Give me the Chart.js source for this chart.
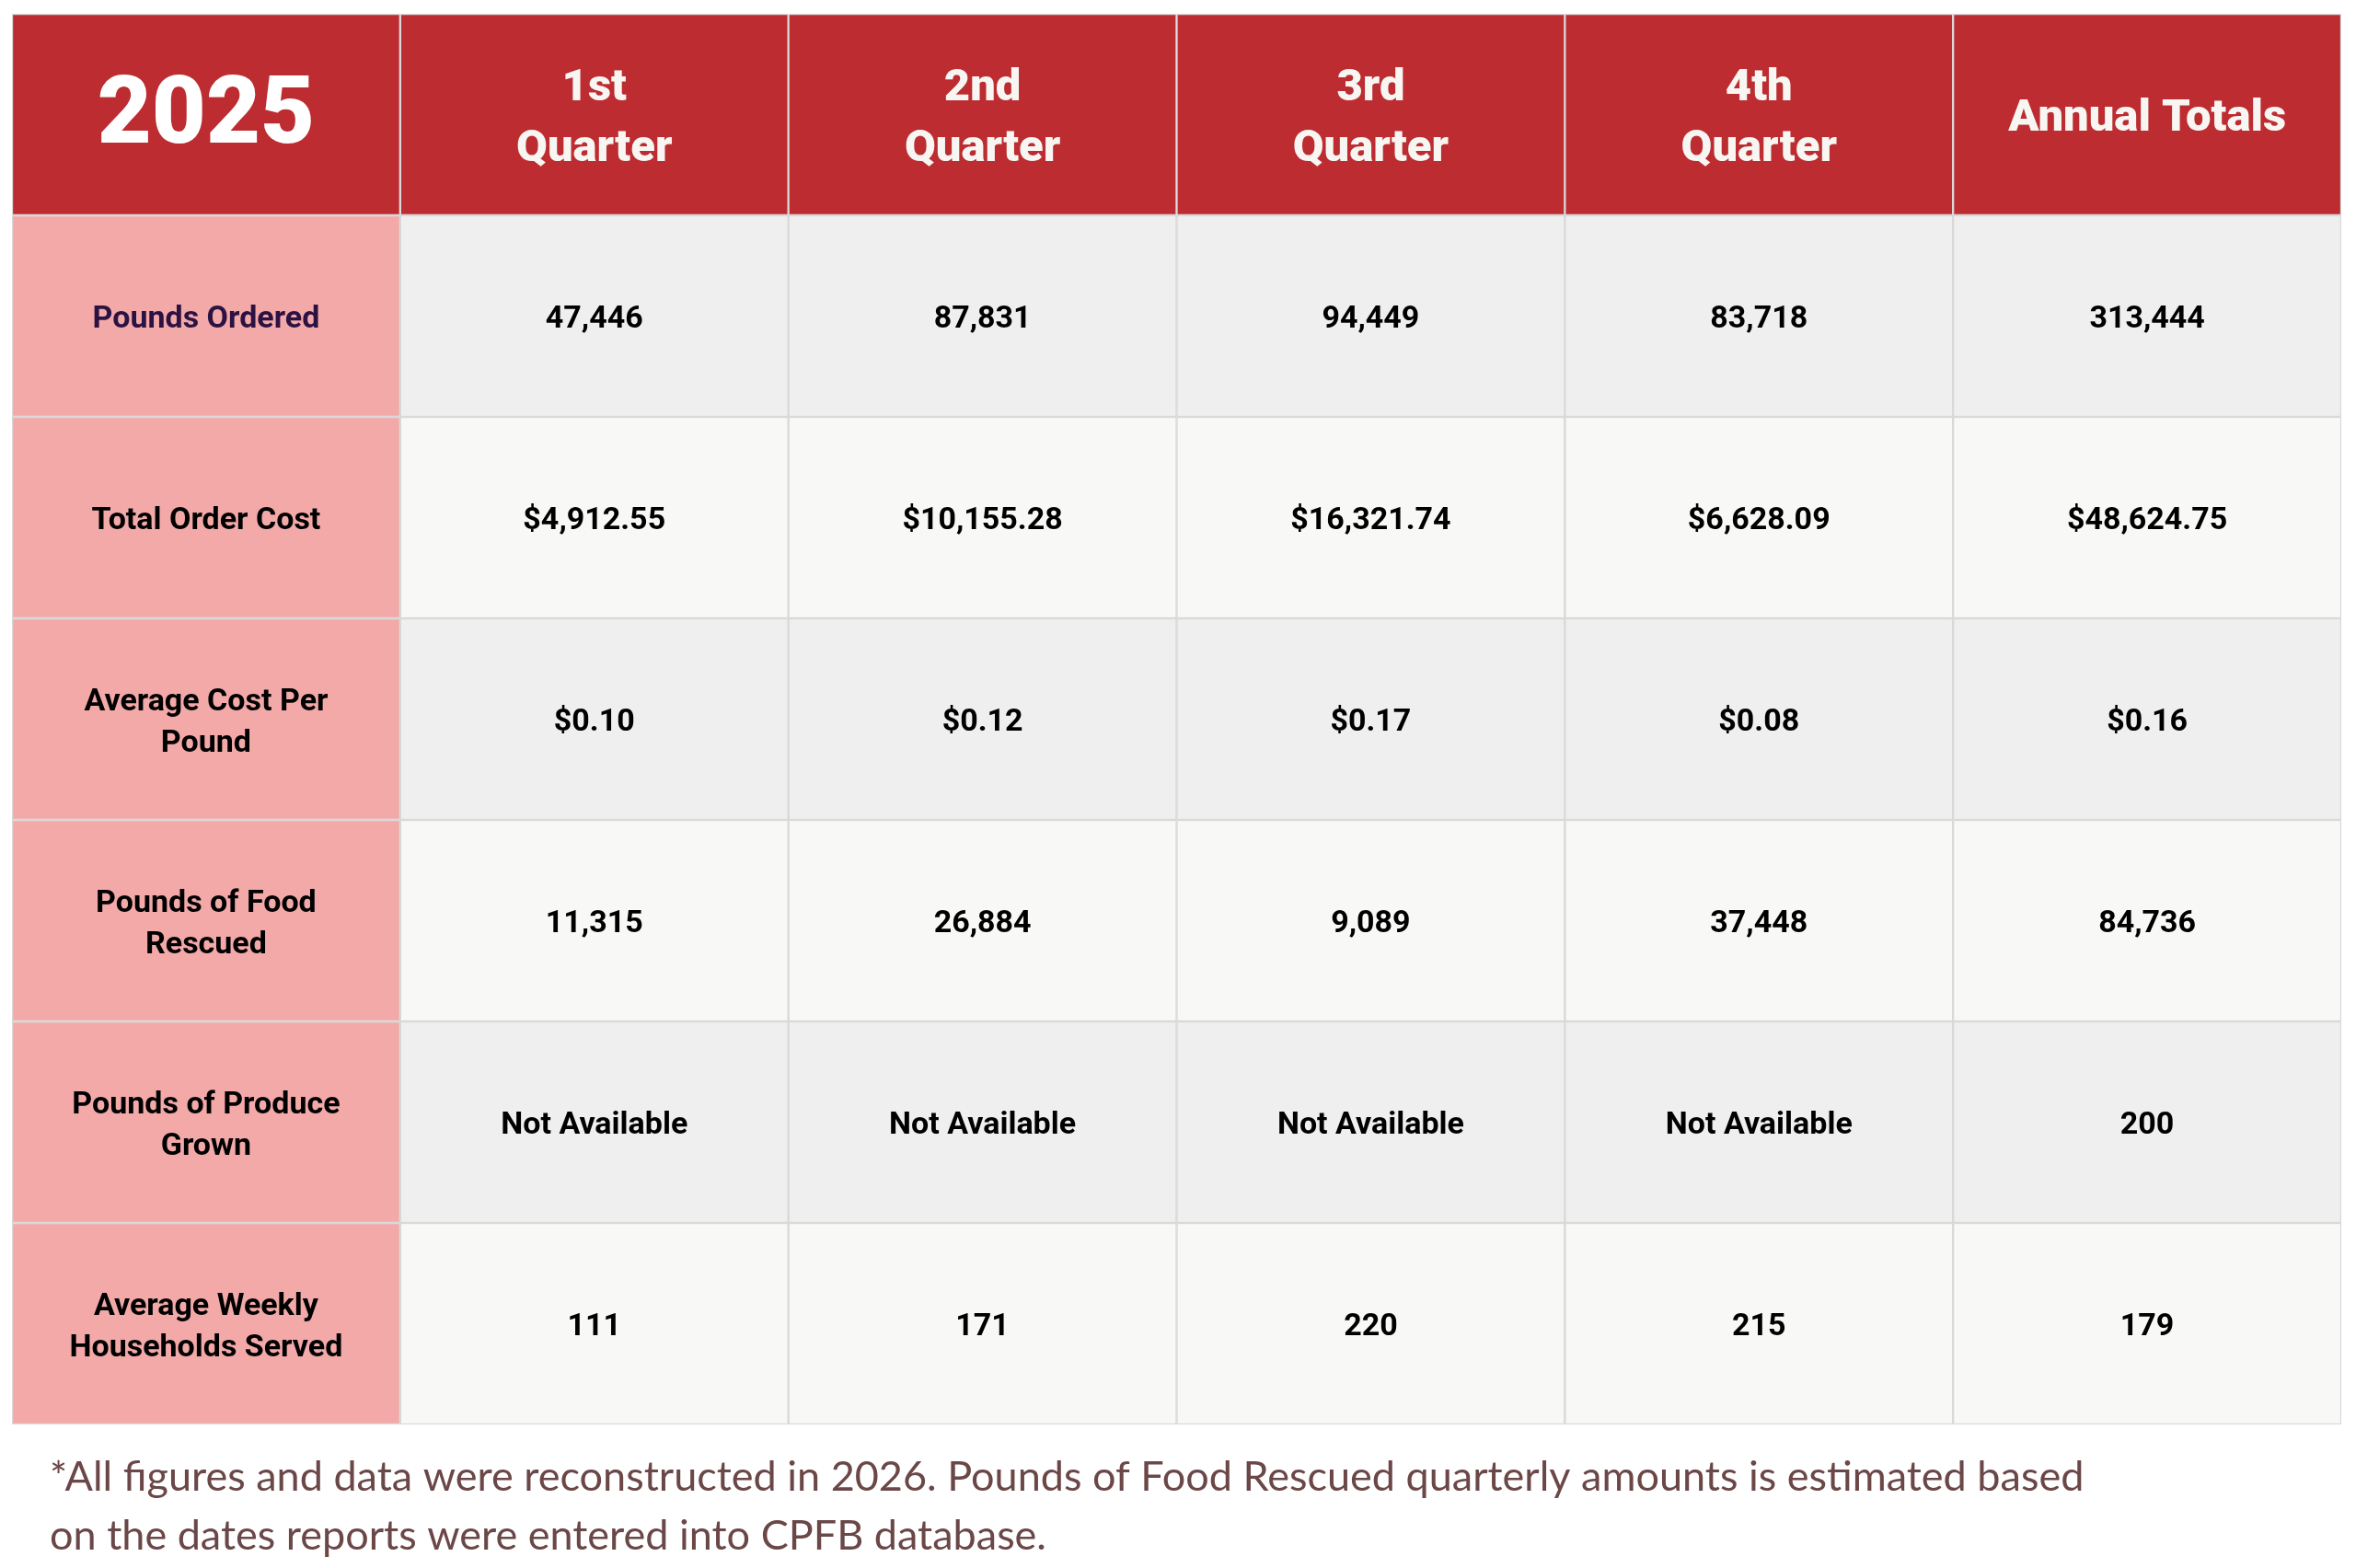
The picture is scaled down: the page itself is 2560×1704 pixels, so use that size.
<!DOCTYPE html>
<html>
<head>
<meta charset="utf-8">
<script src="https://cdn.jsdelivr.net/npm/chart.js@4.4.1/dist/chart.umd.min.js"></script>
<style>
  html, body { margin: 0; padding: 0; background: #ffffff; }
  #wrap { width: 2560px; height: 1704px; position: relative; }
</style>
</head>
<body>
<div id="wrap"><canvas id="c"></canvas></div>
<script>
// ---- Data ----
const yearLabel = '2025';
const columnHeaders = ['1st\nQuarter', '2nd\nQuarter', '3rd\nQuarter', '4th\nQuarter', 'Annual Totals'];
const rowLabels = ['Pounds Ordered', 'Total Order Cost', 'Average Cost Per\nPound', 'Pounds of Food\nRescued', 'Pounds of Produce\nGrown', 'Average Weekly\nHouseholds Served'];
const poundsOrdered = [47446, 87831, 94449, 83718, 313444];
const totalOrderCost = [4912.55, 10155.28, 16321.74, 6628.09, 48624.75];
const avgCostPerPound = [0.10, 0.12, 0.17, 0.08, 0.16];
const poundsRescued = [11315, 26884, 9089, 37448, 84736];
const produceGrown = [null, null, null, null, 200];
const householdsServed = [111, 171, 220, 215, 179];
const footnoteLines = [
  '*All figures and data were reconstructed in 2026. Pounds of Food Rescued quarterly amounts is estimated based',
  'on the dates reports were entered into CPFB database.'
];

// ---- Formatting ----
const fmtInt = v => v.toLocaleString('en-US');
const fmtMoney = v => '$' + v.toLocaleString('en-US', {minimumFractionDigits: 2, maximumFractionDigits: 2});
const fmtNA = v => (v === null ? 'Not Available' : v.toLocaleString('en-US'));

const rowValues = [
  poundsOrdered.map(fmtInt),
  totalOrderCost.map(fmtMoney),
  avgCostPerPound.map(fmtMoney),
  poundsRescued.map(fmtInt),
  produceGrown.map(fmtNA),
  householdsServed.map(fmtInt)
];

// table text grid: row 0 header, rows 1..6 data
const rowKeys = ['header'].concat(rowLabels);
const nCols = columnHeaders.length + 1;
const tableText = [[yearLabel].concat(columnHeaders)];
rowLabels.forEach((lab, i) => tableText.push([lab].concat(rowValues[i])));

// colours
const headerRed = '#BC2C31';
const labelPink = '#F2A9A8';
const rowShadeA = '#EFEFEF';
const rowShadeB = '#F8F8F6';
const gridGray = '#D9D9D9';

function cellColor(r, c) {
  if (r === 0) return headerRed;
  if (c === 0) return labelPink;
  return (r % 2 === 1) ? rowShadeA : rowShadeB;
}

// one floating-bar dataset per column; each bar is a cell
const datasets = [];
for (let c = 0; c < nCols; c++) {
  datasets.push({
    label: 'col' + c,
    data: rowKeys.map(() => [c, c + 1]),
    backgroundColor: rowKeys.map((_, r) => cellColor(r, c)),
    borderColor: gridGray,
    borderWidth: 1.5,
    borderSkipped: false,
    barPercentage: 1,
    categoryPercentage: 1,
    grouped: false
  });
}

const cellTextPlugin = {
  id: 'cellText',
  afterDatasetsDraw(chart) {
    const ctx = chart.ctx;
    const xs = chart.scales.x, ys = chart.scales.y;
    ctx.save();
    ctx.textAlign = 'center';
    ctx.textBaseline = 'middle';
    for (let r = 0; r < tableText.length; r++) {
      for (let c = 0; c < nCols; c++) {
        const txt = tableText[r][c];
        const cx = xs.getPixelForValue(c + 0.5);
        const cy = ys.getPixelForValue(r);
        let font, color, lh, dy;
        if (r === 0 && c === 0) {
          font = '900 102px Roboto'; color = '#FFFFFF'; lh = 0; dy = 5;
        } else if (r === 0) {
          font = '900 49px Roboto'; color = '#F8F6F2'; lh = 66; dy = 5;
        } else if (c === 0) {
          font = 'bold 34px Roboto'; color = (r === 1) ? '#2B1242' : '#000000'; lh = 45; dy = 4;
        } else {
          font = 'bold 34px Roboto'; color = '#000000'; lh = 45; dy = 4;
        }
        ctx.font = font;
        ctx.fillStyle = color;
        const lines = txt.split('\n');
        const y0 = cy + dy - (lines.length - 1) * lh / 2;
        lines.forEach((ln, k) => ctx.fillText(ln, cx, y0 + k * lh));
      }
    }
    // footnote
    ctx.textAlign = 'left';
    ctx.textBaseline = 'middle';
    ctx.font = '400 45px Lato';
    ctx.fillStyle = '#6B4747';
    const fx = chart.chartArea.left + 41;
    const fy = chart.chartArea.bottom + 57;
    footnoteLines.forEach((ln, k) => ctx.fillText(ln, fx, fy + k * 64));
    ctx.restore();
  }
};

new Chart(document.getElementById('c'), {
  type: 'bar',
  data: { labels: rowKeys, datasets: datasets },
  options: {
    indexAxis: 'y',
    responsive: true,
    maintainAspectRatio: false,
    devicePixelRatio: 1,
    animation: false,
    layout: { padding: { left: 13, right: 16, top: 15, bottom: 156 } },
    plugins: { legend: { display: false }, tooltip: { enabled: false }, title: { display: false } },
    scales: {
      x: { type: 'linear', min: 0, max: nCols, display: false },
      y: { type: 'category', display: false, offset: true }
    }
  },
  plugins: [cellTextPlugin]
});
</script>
</body>
</html>
